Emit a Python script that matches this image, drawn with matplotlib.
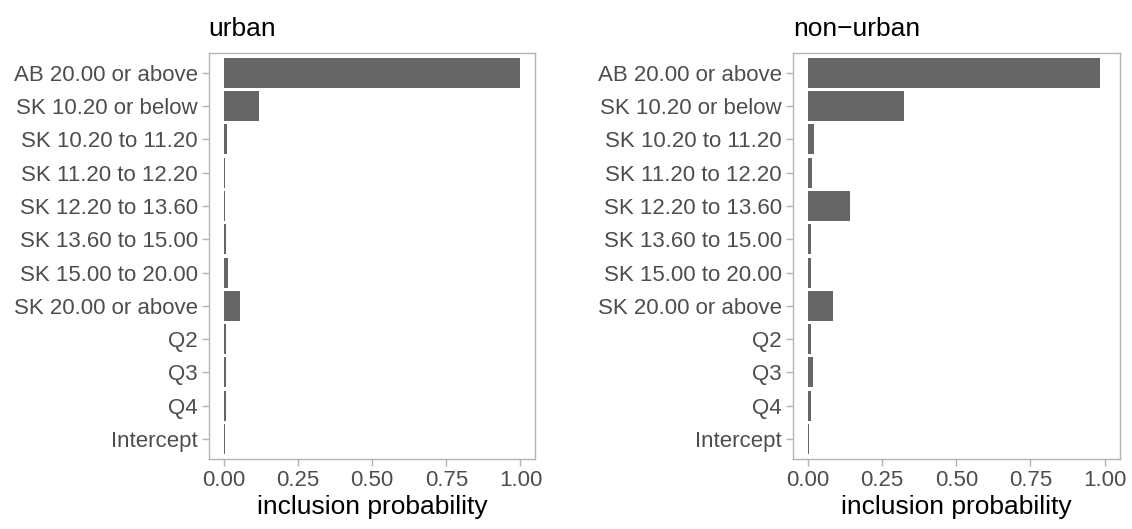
import matplotlib
matplotlib.use("Agg")
import matplotlib.pyplot as plt

plt.rcParams['font.family'] = ['Liberation Sans', 'DejaVu Sans']

categories = ['AB 20.00 or above', 'SK 10.20 or below', 'SK 10.20 to 11.20',
              'SK 11.20 to 12.20', 'SK 12.20 to 13.60', 'SK 13.60 to 15.00',
              'SK 15.00 to 20.00', 'SK 20.00 or above', 'Q2', 'Q3', 'Q4',
              'Intercept']

urban = [1.0, 0.119, 0.010, 0.004, 0.004, 0.007, 0.014, 0.054,
         0.007, 0.007, 0.007, 0.004]
non_urban = [0.983, 0.325, 0.020, 0.014, 0.142, 0.010, 0.010, 0.085,
             0.010, 0.017, 0.010, 0.003]

panels = [('urban', urban), ('non\u2212urban', non_urban)]
ticks = [0, 0.25, 0.5, 0.75, 1.0]
tick_labels = ['0.00', '0.25', '0.50', '0.75', '1.00']

fig = plt.figure(figsize=(11.32, 5.29), dpi=100)
lefts = [0.1844, 0.7005]
grey = '#b3b3b3'

for left, (title, vals) in zip(lefts, panels):
    ax = fig.add_axes([left, 0.1323, 0.2885, 0.768])
    y = list(range(len(categories)))
    ax.barh(y, vals, height=0.9, color='#666666', zorder=2)
    ax.set_ylim(len(categories) - 0.4, -0.6)
    ax.set_xlim(-0.05, 1.05)
    ax.set_yticks(y)
    ax.set_yticklabels(categories)
    ax.set_xticks(ticks)
    ax.set_xticklabels(tick_labels)
    for s in ax.spines.values():
        s.set_color(grey)
        s.set_linewidth(1.0)
    ax.tick_params(axis='both', colors=grey, labelcolor='#4d4d4d',
                   labelsize=16, length=5, width=1.0, pad=3)
    ax.set_title(title, loc='left', fontsize=19, pad=12, color='black')
    ax.set_xlabel('inclusion probability', fontsize=19, labelpad=3)

fig.savefig('out.png', dpi=100)
